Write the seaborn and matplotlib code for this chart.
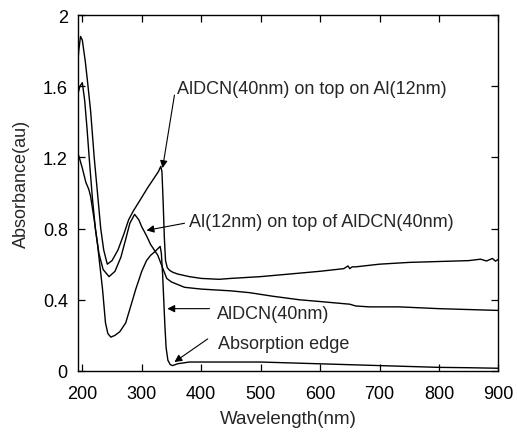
import matplotlib
matplotlib.use("Agg")
import matplotlib.pyplot as plt
import seaborn as sns
import pandas as pd

# ---- data ----
wl_top = [192, 194, 197, 200, 205, 209, 214, 220, 225, 231, 236, 242, 250, 260, 270, 278, 286,
          299, 310, 320, 328, 332, 334, 336, 338, 340, 343, 347, 352, 360, 380, 400, 430, 450, 500, 550,
          600, 640, 647, 650, 654, 660, 700, 750, 800, 850, 870, 880, 890, 895, 900]
abs_top = [1.72, 1.80, 1.88, 1.86, 1.74, 1.62, 1.46, 1.20, 1.02, 0.80, 0.68, 0.60, 0.62, 0.68, 0.77, 0.85, 0.90,
           0.97, 1.03, 1.08, 1.12, 1.15, 1.12, 0.95, 0.75, 0.62, 0.58, 0.565, 0.555, 0.545, 0.53, 0.52,
           0.515, 0.52, 0.53, 0.545, 0.56, 0.575, 0.59, 0.575, 0.585, 0.585, 0.60, 0.61, 0.615, 0.62, 0.628,
           0.618, 0.632, 0.617, 0.627]

wl_mid = [192, 196, 200, 204, 208, 212, 217, 222, 228, 235, 245, 255, 265, 273, 280, 288, 295, 300,
          308, 315, 327, 335, 342, 350, 372, 400, 450, 481, 520, 565, 600, 650, 660, 683, 733, 800, 850, 900]
abs_mid = [1.55, 1.60, 1.62, 1.52, 1.36, 1.18, 0.97, 0.80, 0.66, 0.57, 0.53, 0.56, 0.64, 0.74, 0.83, 0.88,
           0.85, 0.81, 0.76, 0.71, 0.65, 0.58, 0.52, 0.50, 0.47, 0.46, 0.45, 0.44, 0.42, 0.40, 0.39, 0.375,
           0.365, 0.36, 0.36, 0.35, 0.345, 0.34]

wl_bot = [192, 194, 200, 206, 211, 214, 220, 226, 234, 239, 243, 248, 255, 263, 273, 282, 290, 300, 308,
          315, 322, 328, 331, 333, 335, 337, 339, 341, 344, 348, 352, 360, 380, 400, 450, 500, 550, 600,
          650, 700, 750, 800, 850, 900]
abs_bot = [1.22, 1.21, 1.14, 1.06, 1.02, 0.98, 0.85, 0.70, 0.46, 0.27, 0.21, 0.19, 0.20, 0.22, 0.27, 0.37,
           0.46, 0.56, 0.62, 0.65, 0.67, 0.69, 0.70, 0.66, 0.55, 0.40, 0.25, 0.13, 0.06, 0.035, 0.03, 0.04,
           0.05, 0.05, 0.05, 0.05, 0.045, 0.04, 0.035, 0.03, 0.025, 0.02, 0.018, 0.015]

series_names = ["AlDCN(40nm) on top on Al(12nm)", "Al(12nm) on top of AlDCN(40nm)", "AlDCN(40nm)"]

x_ticks = [200, 300, 400, 500, 600, 700, 800, 900]
y_ticks = [0, 0.4, 0.8, 1.2, 1.6, 2]
y_tick_labels = ["0", "0.4", "0.8", "1.2", "1.6", "2"]

ann_labels = ["AlDCN(40nm) on top on Al(12nm)", "Al(12nm) on top of AlDCN(40nm)", "AlDCN(40nm)",
              "Absorption edge"]

df = pd.concat([
    pd.DataFrame({"wl": wl_top, "A": abs_top, "s": series_names[0]}),
    pd.DataFrame({"wl": wl_mid, "A": abs_mid, "s": series_names[1]}),
    pd.DataFrame({"wl": wl_bot, "A": abs_bot, "s": series_names[2]}),
], ignore_index=True)

sns.set_style("ticks")
plt.rcParams["font.family"] = ["Liberation Sans", "DejaVu Sans"]

fig = plt.figure(figsize=(5.17, 4.35), dpi=100)
ax = fig.add_axes([0.150, 0.145, 0.814, 0.818])

sns.lineplot(data=df, x="wl", y="A", hue="s", palette=["black"] * 3, estimator=None, sort=False,
             linewidth=1.0, legend=False, ax=ax)

ax.set_xlim(192, 900)
ax.set_ylim(0, 2)
ax.set_xticks(x_ticks)
ax.set_yticks(y_ticks)
ax.set_yticklabels(y_tick_labels)
ax.set_xlabel("Wavelength(nm)", fontsize=13.5, labelpad=6)
ax.set_ylabel("Absorbance(au)", fontsize=13)
ax.yaxis.set_label_coords(-0.112, 0.528)
ax.tick_params(axis="both", direction="in", length=5, width=0.9, top=True, right=True,
               labelsize=13, colors="black")
ax.tick_params(axis="x", pad=10)
ax.tick_params(axis="y", pad=7)
for sp in ax.spines.values():
    sp.set_linewidth(1.0)
    sp.set_color("black")

arrow = dict(arrowstyle="-|>", color="black", lw=0.8, mutation_scale=11, shrinkA=0, shrinkB=0)

# text positions (data coordinates)
ax.text(360, 1.59, ann_labels[0], fontsize=13, va="center", ha="left")
ax.annotate("", xy=(335, 1.14), xytext=(355, 1.55), arrowprops=arrow)

ax.text(379, 0.84, ann_labels[1], fontsize=13, va="center", ha="left")
ax.annotate("", xy=(308, 0.79), xytext=(372, 0.83), arrowprops=arrow)

ax.text(426, 0.32, ann_labels[2], fontsize=13, va="center", ha="left")
ax.annotate("", xy=(343, 0.35), xytext=(414, 0.35), arrowprops=arrow)

ax.text(428, 0.153, ann_labels[3], fontsize=13, va="center", ha="left")
ax.annotate("", xy=(355, 0.05), xytext=(411, 0.18), arrowprops=arrow)

fig.savefig("out.png", dpi=100)
